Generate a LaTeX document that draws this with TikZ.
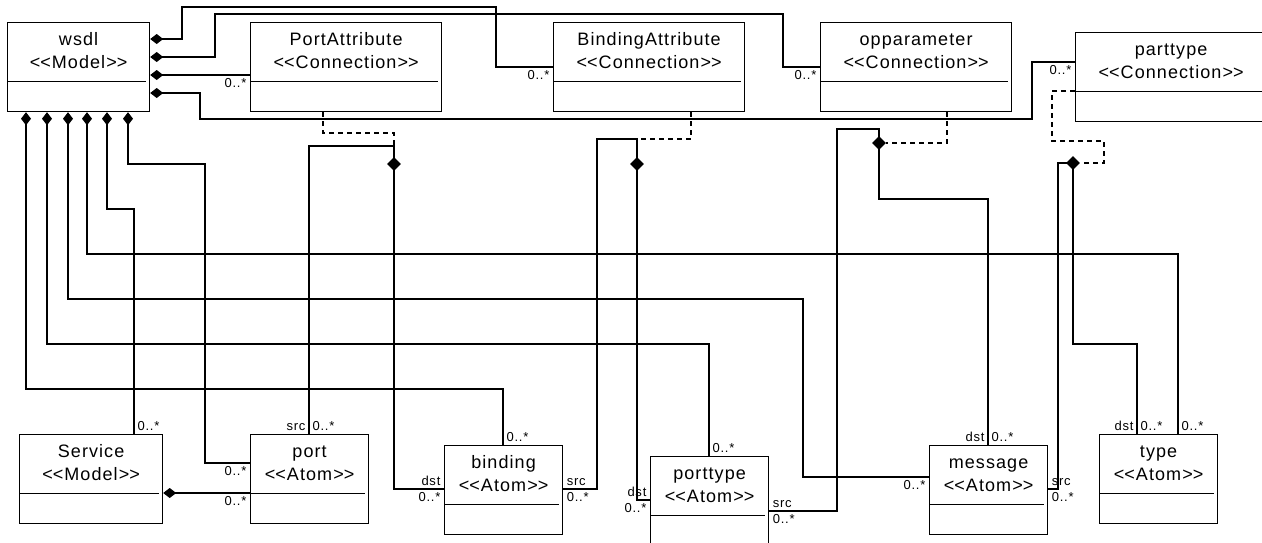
\documentclass[tikz,border=0pt]{standalone}
\usepackage{fontspec}
\newfontfamily\umlfont[LetterSpace=6]{Liberation Sans}
\usetikzlibrary{arrows.meta, shapes.geometric}
\newcommand{\stereo}[1]{<\kern0pt<#1>\kern0pt>}

\begin{document}
\begin{tikzpicture}[x=1pt, y=-1pt,
  classbox/.style={draw, line width=1.2pt, fill=white, anchor=north west, inner sep=0pt, minimum height=89pt,
    path picture={\draw[line width=1.2pt] ([yshift=-59pt]path picture bounding box.north west) -- ([yshift=-59pt, xshift=-4pt]path picture bounding box.north east);}},
  cname/.style={font=\umlfont\fontsize{18}{22}\selectfont, anchor=base, inner sep=0pt},
  mult/.style={font=\umlfont\fontsize{13}{15}\selectfont, inner sep=3pt},
  comp/.style={line width=1.2pt, {Diamond[length=13pt, width=10pt]}-},
  assoc/.style={line width=1.2pt},
  attach/.style={line width=1.2pt, dash pattern=on 5pt off 4pt},
  knot/.style={diamond, fill=black, inner sep=0pt, minimum width=14pt, minimum height=14pt}]
\useasboundingbox (0,0) rectangle (1262,542);

\node[classbox, minimum width=142pt] (wsdl) at (7,22) {};
\node[classbox, minimum width=191pt] (pattr) at (250,22) {};
\node[classbox, minimum width=191pt] (battr) at (553,22) {};
\node[classbox, minimum width=191pt] (opar) at (820,22) {};
\node[classbox, minimum width=191pt] (ptt) at (1075,32) {};
\node[classbox, minimum width=143pt] (service) at (19,434) {};
\node[classbox, minimum width=118pt] (port) at (250,434) {};
\node[classbox, minimum width=118pt] (binding) at (444,445) {};
\node[classbox, minimum width=118pt] (ptype) at (650,456) {};
\node[classbox, minimum width=118pt] (message) at (929,445) {};
\node[classbox, minimum width=118pt] (type) at (1099,434) {};

\node[cname] (wsdl-n) at ([yshift=-23pt]wsdl.north) {wsdl};
\node[cname] (wsdl-s) at ([yshift=-46pt]wsdl.north) {\stereo{Model}};
\node[cname] (pattr-n) at ([yshift=-23pt]pattr.north) {PortAttribute};
\node[cname] (pattr-s) at ([yshift=-46pt]pattr.north) {\stereo{Connection}};
\node[cname] (battr-n) at ([yshift=-23pt]battr.north) {BindingAttribute};
\node[cname] (battr-s) at ([yshift=-46pt]battr.north) {\stereo{Connection}};
\node[cname] (opar-n) at ([yshift=-23pt]opar.north) {opparameter};
\node[cname] (opar-s) at ([yshift=-46pt]opar.north) {\stereo{Connection}};
\node[cname] (ptt-n) at ([yshift=-23pt]ptt.north) {parttype};
\node[cname] (ptt-s) at ([yshift=-46pt]ptt.north) {\stereo{Connection}};
\node[cname] (service-n) at ([yshift=-23pt]service.north) {Service};
\node[cname] (service-s) at ([yshift=-46pt]service.north) {\stereo{Model}};
\node[cname] (port-n) at ([yshift=-23pt]port.north) {port};
\node[cname] (port-s) at ([yshift=-46pt]port.north) {\stereo{Atom}};
\node[cname] (binding-n) at ([yshift=-23pt]binding.north) {binding};
\node[cname] (binding-s) at ([yshift=-46pt]binding.north) {\stereo{Atom}};
\node[cname] (ptype-n) at ([yshift=-23pt]ptype.north) {porttype};
\node[cname] (ptype-s) at ([yshift=-46pt]ptype.north) {\stereo{Atom}};
\node[cname] (message-n) at ([yshift=-23pt]message.north) {message};
\node[cname] (message-s) at ([yshift=-46pt]message.north) {\stereo{Atom}};
\node[cname] (type-n) at ([yshift=-23pt]type.north) {type};
\node[cname] (type-s) at ([yshift=-46pt]type.north) {\stereo{Atom}};

% containment in wsdl
\draw[comp] (wsdl.east |- 0,39) -| (182,7) -| (496,67) -- (battr.west |- 0,67) node[mult, below left] (m1) {0..*};
\draw[comp] (wsdl.east |- 0,57) -| (215,14) -| (783,67) -- (opar.west |- 0,67) node[mult, below left] (m2) {0..*};
\draw[comp] (wsdl.east |- 0,75) -- (pattr.west |- 0,75) node[mult, below left] (m3) {0..*};
\draw[comp] (wsdl.east |- 0,93) -| (200,119) -| (1032,62) -- (ptt.west |- 0,62) node[mult, below left] (m4) {0..*};
\draw[comp] (wsdl.south -| 26,0) |- (503,389) -- (binding.north -| 503,0) node[mult, above right] (m5) {0..*};
\draw[comp] (wsdl.south -| 47,0) |- (709,344) -- (ptype.north -| 709,0) node[mult, above right] (m6) {0..*};
\draw[comp] (wsdl.south -| 68,0) |- (803,299) |- (message.west |- 0,477) node[mult, below left] (m7) {0..*};
\draw[comp] (wsdl.south -| 87,0) |- (1178,254) -- (type.north -| 1178,0) node[mult, above right] (m8) {0..*};
\draw[comp] (wsdl.south -| 107,0) |- (134,209) -- (service.north -| 134,0) node[mult, above right] (m9) {0..*};
\draw[comp] (wsdl.south -| 128,0) |- (205,164) |- (port.west |- 0,463) node[mult, below left] (m10) {0..*};
\draw[comp] (service.east |- 0,493) -- (port.west |- 0,493) node[mult, below left] (m11) {0..*};

% src/dst associations
\draw[assoc] (port.north -| 309,0) node[mult, above left] (m12) {src} node[mult, above right] (m13) {0..*}
  |- (394,146) |- (binding.west |- 0,489) node[mult, above left] (m14) {dst} node[mult, below left] (m15) {0..*};
\draw[assoc] (binding.east |- 0,489) node[mult, above right] (m16) {src} node[mult, below right] (m17) {0..*}
  -| (597,139) -- (637,139) |- (ptype.west |- 0,500) node[mult, above left] (m18) {dst} node[mult, below left] (m19) {0..*};
\draw[assoc] (ptype.east |- 0,511) node[mult, above right] (m20) {src} node[mult, below right] (m21) {0..*}
  -| (837,129) -| (879,199) -| (message.north -| 988,0) node[mult, above left] (m22) {dst} node[mult, above right] (m23) {0..*};
\draw[assoc] (message.east |- 0,489) node[mult, above right] (m24) {src} node[mult, below right] (m25) {0..*}
  -| (1058,163) -| (1073,344) -| (type.north -| 1137,0) node[mult, above left] (m26) {dst} node[mult, above right] (m27) {0..*};

\node[knot] (k1) at (394,164) {};
\node[knot] (k2) at (637,164) {};
\node[knot] (k3) at (879,143) {};
\node[knot] (k4) at (1073,163) {};

\draw[attach] (pattr.south -| 323,0) |- (394,133) -- (k1);
\draw[attach] (battr.south -| 691,0) |- (637,139) -- (k2);
\draw[attach] (opar.south -| 947,0) |- (k3);
\draw[attach] (ptt.west |- 0,91) -| (1052,141) -| (1104,163) -- (k4);
\end{tikzpicture}
\end{document}
